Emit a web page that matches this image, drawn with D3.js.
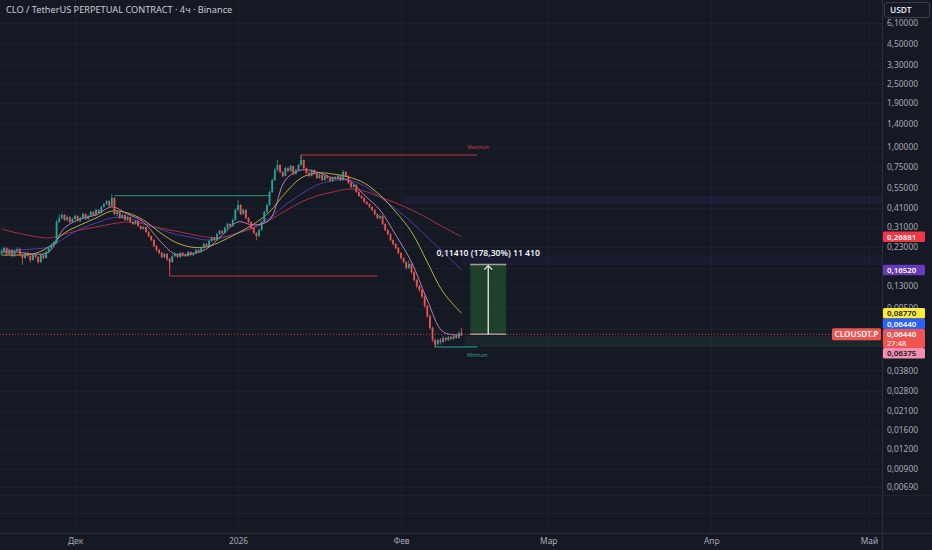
<!DOCTYPE html>
<html><head><meta charset="utf-8">
<script src="https://cdn.jsdelivr.net/npm/d3@7"></script>
<style>
html,body{margin:0;padding:0;background:#151924;overflow:hidden;}
svg{display:block;}
text{font-family:"Noto Sans","Open Sans",sans-serif;}
</style></head><body>
<svg id="c" width="932" height="550"></svg>
<script>
// ---------------- DATA ----------------
const title = "CLO / TetherUS PERPETUAL CONTRACT · 4ч · Binance";
const firstOpen = 0.210;
const candleStart = new Date(2025, 10, 17, 0, 0); // first candle (12h step)
const stepHours = 12;
const closes = [
 0.2146,0.2275,0.2084,0.221,0.2024,0.218,0.2242,0.2054,0.1966,0.2115,
 0.2024,0.191,0.2084,0.1995,0.1854,0.2054,0.1966,0.2146,0.2275,0.2377,
 0.245,0.333,0.353,0.369,0.343,0.358,0.333,0.348,0.364,0.338,
 0.353,0.374,0.348,0.364,0.386,0.369,0.397,0.380,0.415,0.433,
 0.452,0.421,0.473,0.374,0.386,0.353,0.369,0.343,0.358,0.333,
 0.3235,0.338,0.314,0.3006,0.3095,0.288,0.271,0.256,0.2343,0.221,
 0.2115,0.1995,0.2084,0.1937,0.1854,0.2024,0.2084,0.1995,0.2115,0.2054,
 0.2024,0.2146,0.2054,0.2115,0.221,0.2146,0.2275,0.2415,0.2343,0.2524,
 0.2635,0.256,0.279,0.292,0.2835,0.305,0.3235,0.314,0.343,0.397,
 0.427,0.374,0.397,0.353,0.333,0.305,0.2835,0.271,0.296,0.333,
 0.386,0.427,0.516,0.615,0.712,0.766,0.692,0.653,0.733,0.702,
 0.755,0.672,0.712,0.766,0.824,0.733,0.682,0.653,0.712,0.672,
 0.634,0.662,0.615,0.653,0.634,0.607,0.643,0.625,0.653,0.615,
 0.692,0.653,0.589,0.556,0.572,0.516,0.487,0.473,0.446,0.433,
 0.415,0.397,0.374,0.353,0.364,0.3235,0.296,0.279,0.256,0.2415,
 0.2275,0.2115,0.1966,0.1854,0.1698,0.180,0.160,0.1425,0.1305,0.1231,
 0.1119,0.0973,0.084,0.0707,0.0592,0.0559,0.0592,0.0576,0.061,0.0592,
 0.0619,0.0602,0.0628,0.061,0.0658,0.0644
];
const highs = [
 0.224,0.233,0.231,0.226,0.224,0.222,0.230,0.227,0.209,0.215,
 0.216,0.205,0.212,0.211,0.203,0.209,0.208,0.219,0.232,0.243,
 0.252,0.345,0.372,0.378,0.374,0.366,0.362,0.356,0.371,0.367,
 0.359,0.382,0.379,0.369,0.393,0.390,0.404,0.402,0.422,0.441,
 0.462,0.458,0.500,0.478,0.395,0.390,0.376,0.372,0.364,0.361,
 0.338,0.344,0.341,0.318,0.315,0.312,0.292,0.274,0.259,0.238,
 0.225,0.216,0.213,0.211,0.197,0.207,0.213,0.211,0.215,0.214,
 0.209,0.218,0.217,0.215,0.226,0.224,0.232,0.246,0.245,0.257,
 0.269,0.267,0.284,0.298,0.296,0.311,0.330,0.327,0.350,0.405,
 0.460,0.433,0.405,0.401,0.358,0.337,0.309,0.287,0.301,0.340,
 0.394,0.436,0.527,0.628,0.735,0.824,0.775,0.700,0.745,0.742,
 0.768,0.762,0.725,0.780,0.887,0.830,0.740,0.690,0.722,0.720,
 0.680,0.672,0.668,0.660,0.661,0.640,0.650,0.652,0.662,0.658,
 0.712,0.700,0.660,0.596,0.580,0.578,0.522,0.494,0.478,0.452,
 0.440,0.420,0.402,0.378,0.370,0.368,0.327,0.300,0.283,0.259,
 0.245,0.231,0.214,0.199,0.188,0.190,0.183,0.162,0.145,0.133,
 0.125,0.114,0.099,0.086,0.072,0.0605,0.0605,0.0610,0.0625,0.0620,
 0.0630,0.0628,0.0640,0.0645,0.0672,0.0705
];
const lows = [
 0.205,0.211,0.203,0.205,0.198,0.200,0.214,0.202,0.178,0.194,
 0.199,0.185,0.189,0.196,0.181,0.183,0.193,0.195,0.211,0.224,
 0.233,0.243,0.328,0.346,0.338,0.336,0.327,0.329,0.344,0.333,
 0.334,0.349,0.343,0.345,0.360,0.364,0.366,0.375,0.377,0.410,
 0.428,0.415,0.418,0.368,0.362,0.348,0.349,0.338,0.339,0.329,
 0.318,0.320,0.309,0.296,0.297,0.283,0.266,0.251,0.230,0.216,
 0.207,0.195,0.196,0.188,0.170,0.183,0.199,0.196,0.197,0.201,
 0.199,0.200,0.202,0.203,0.209,0.211,0.212,0.225,0.231,0.232,
 0.249,0.252,0.253,0.275,0.279,0.280,0.301,0.309,0.310,0.339,
 0.392,0.368,0.370,0.347,0.327,0.300,0.278,0.255,0.268,0.293,
 0.330,0.380,0.422,0.510,0.605,0.700,0.680,0.640,0.648,0.690,
 0.695,0.660,0.665,0.705,0.758,0.720,0.672,0.640,0.648,0.662,
 0.625,0.628,0.606,0.610,0.627,0.598,0.602,0.618,0.620,0.608,
 0.610,0.645,0.580,0.548,0.548,0.508,0.480,0.465,0.439,0.426,
 0.408,0.390,0.367,0.347,0.345,0.318,0.291,0.274,0.251,0.237,
 0.223,0.207,0.192,0.181,0.166,0.168,0.156,0.139,0.127,0.120,
 0.109,0.095,0.082,0.069,0.0575,0.0535,0.0548,0.0555,0.0565,0.0578,
 0.0585,0.0590,0.0595,0.0600,0.0605,0.0630
];
// moving averages sampled at candle indices
const maIdx = [0,6,12,18,24,30,36,42,48,54,60,66,72,78,84,90,96,102,108,114,120,126,132,138,144,150,156,162,168,175];
const maFast = [0.2146,0.2146,0.2084,0.2146,0.305,0.348,0.369,0.415,0.374,0.333,0.256,0.2084,0.2084,0.2242,0.275,0.333,0.3187,0.343,0.615,0.712,0.692,0.634,0.615,0.494,0.397,0.275,0.1854,0.1063,0.0668,0.06375];
const maYellow = [0.2054,0.2054,0.2084,0.231,0.2835,0.3187,0.353,0.391,0.380,0.343,0.288,0.2486,0.231,0.231,0.2524,0.2835,0.3235,0.386,0.509,0.634,0.682,0.672,0.643,0.589,0.494,0.386,0.288,0.1854,0.1196,0.0877];
const maIndigo = [0.221,0.221,0.2242,0.231,0.2635,0.3006,0.328,0.353,0.353,0.328,0.3006,0.279,0.267,0.256,0.2635,0.2835,0.3095,0.353,0.427,0.501,0.572,0.607,0.615,0.564,0.480,0.403,0.333,0.267,0.2146,0.1652];
const maRed = [0.3006,0.2835,0.271,0.2635,0.279,0.296,0.3095,0.3235,0.333,0.3235,0.305,0.292,0.279,0.267,0.267,0.2835,0.305,0.343,0.391,0.446,0.487,0.516,0.539,0.523,0.480,0.440,0.397,0.353,0.3095,0.2688];
const priceTicks = [6.1,4.5,3.3,2.5,1.9,1.4,1.0,0.75,0.55,0.41,0.31,0.23,0.17,0.13,0.095,0.07,0.052,0.038,0.028,0.021,0.016,0.012,0.009,0.0069];
const monthDates = [new Date(2025,11,1),new Date(2026,0,1),new Date(2026,1,1),new Date(2026,2,1),new Date(2026,3,1),new Date(2026,4,1)];
const monthLabels = ["Дек","2026","Фев","Мар","Апр","Май"];
// price-axis tags: value, text, background, text colour
const tagValues = [0.26881,0.16520,0.08770,0.06440,0.06375];
const tagTexts = ["0,26881","0,16520","0,08770","0,06440","0,06375"];
const tagBg = ["#f23645","#673ab7","#ffeb3b","#2962ff","#f48fb1"];
const tagFg = ["#ffffff","#ffffff","#131722","#ffffff","#131722"];
const lastPrice = 0.06440, countdown = "27:48", symbol = "CLOUSDT.P";
// drawings
const maxPrice = 0.887, minPrice = 0.0535;
const measureFrom = 0.0644, measureTo = 0.1785;
const measureText = "0,11410 (178,30%) 11 410";
const zoneUpper = [0.487, 0.433];
const zoneLower = [0.2054, 0.1770];
const pivotHigh = 0.490, pivotLow = 0.1511;

// ---------------- CHART ----------------
const W = 932, H = 550, plotR = 882, plotB = 533;
const svg = d3.select("#c");
svg.append("rect").attr("width",W).attr("height",H).attr("fill","#151924");

const x = d3.scaleTime().domain([new Date(2025,10,16,17,40), new Date(2026,4,3,11,30)]).range([0, plotR]);
const y = d3.scaleLog().domain([0.0069, 4.5]).range([487, 44]);
const tAt = i => new Date(candleStart.getTime() + i*stepHours*3600e3);
const xi = i => x(tAt(i));
const loc = d3.formatLocale({decimal:",",thousands:" ",grouping:[3],currency:["",""]});
const f5 = loc.format(".5f");

// grid
const grid = svg.append("g");
grid.selectAll("line.h").data(priceTicks).join("line")
  .attr("x1",0).attr("x2",plotR).attr("y1",d=>Math.round(y(d))+0.5).attr("y2",d=>Math.round(y(d))+0.5)
  .attr("stroke","#1c202d").attr("stroke-width",1);
grid.selectAll("line.v").data(monthDates).join("line")
  .attr("x1",d=>Math.round(x(d))+0.5).attr("x2",d=>Math.round(x(d))+0.5).attr("y1",0).attr("y2",plotB)
  .attr("stroke","#1c202d").attr("stroke-width",1);
// pane lines
[495,513].forEach(v=>svg.append("line").attr("x1",0).attr("x2",W).attr("y1",v+0.5).attr("y2",v+0.5).attr("stroke","#1f2330"));
svg.append("line").attr("x1",0).attr("x2",W).attr("y1",plotB+0.5).attr("y2",plotB+0.5).attr("stroke","#2a2e39");
svg.append("line").attr("x1",plotR+0.5).attr("x2",plotR+0.5).attr("y1",0).attr("y2",H).attr("stroke","#2a2e39");

// zones
const z = svg.append("g");
const zuX = x(tAt(153)), zlX = x(tAt(175));
z.append("rect").attr("x",zuX).attr("width",plotR-zuX)
  .attr("y",y(zoneUpper[0])).attr("height",y(zoneUpper[1])-y(zoneUpper[0])).attr("fill","rgba(80,60,200,0.14)");
z.append("rect").attr("x",zlX).attr("width",plotR-zlX)
  .attr("y",y(zoneLower[0])).attr("height",y(zoneLower[1])-y(zoneLower[0])).attr("fill","rgba(80,60,200,0.09)");
z.append("rect").attr("x",xi(175)+3).attr("width",plotR-xi(175)-3)
  .attr("y",y(lastPrice)+2).attr("height",y(minPrice)-y(lastPrice)-2).attr("fill","rgba(70,140,110,0.12)");

// pivot lines
const lc = svg.append("g").attr("fill","none").attr("stroke-width",1.2);
lc.append("path").attr("stroke","#2b7d6e")
  .attr("d",`M${xi(43)},${y(pivotHigh)}H${xi(102)}`);
lc.append("path").attr("stroke","#c2303f")
  .attr("d",`M${xi(64)},${y(0.197)}V${y(pivotLow)}H${xi(143)}`);
lc.append("path").attr("stroke","#c2303f")
  .attr("d",`M${xi(114)},${y(0.83)}V${y(maxPrice)}H${xi(181)}`);
lc.append("path").attr("stroke","#26a69a")
  .attr("d",`M${xi(165)},${y(0.0592)}V${y(minPrice)}H${xi(181)}`);
svg.append("text").attr("x",xi(181)+1).attr("y",y(maxPrice)-6).attr("text-anchor","middle")
  .attr("font-size",4.5).attr("fill","#d23a4a").text("Maximum");
svg.append("text").attr("x",xi(181)).attr("y",y(minPrice)+10).attr("text-anchor","middle")
  .attr("font-size",4.5).attr("fill","#26a69a").text("Minimum");

// moving averages
const maLine = vals => d3.line().x((d,k)=>xi(maIdx[k])).y(d=>y(d)).curve(d3.curveCatmullRom.alpha(0.5))(vals);
const mas = [[maRed,"#b8324a"],[maIndigo,"#5a3fb0"],[maYellow,"#cbbd45"],[maFast,"#c98ac8"]];
svg.append("g").attr("fill","none").attr("stroke-width",1)
  .selectAll("path").data(mas).join("path").attr("d",d=>maLine(d[0])).attr("stroke",d=>d[1]).attr("opacity",0.9);

// candles
const cd = closes.map((c,i)=>({i,o:i?closes[i-1]:firstOpen,c,h:highs[i],l:lows[i]}));
const cg = svg.append("g");
cg.selectAll("line").data(cd).join("line")
  .attr("x1",d=>xi(d.i)).attr("x2",d=>xi(d.i)).attr("y1",d=>y(d.h)).attr("y2",d=>y(d.l))
  .attr("stroke",d=>d.c>=d.o?"#26a69a":"#ef5350").attr("stroke-width",0.8);
cg.selectAll("rect").data(cd).join("rect")
  .attr("x",d=>xi(d.i)-0.9).attr("width",1.8)
  .attr("y",d=>y(Math.max(d.o,d.c))).attr("height",d=>Math.max(0.8,Math.abs(y(d.o)-y(d.c))))
  .attr("fill",d=>d.c>=d.o?"#26a69a":"#ef5350");

// measure tool
const mx0 = xi(181)-7, mx1 = xi(181)+29, mxc = (mx0+mx1)/2;
const mg = svg.append("g");
mg.append("rect").attr("x",mx0).attr("width",mx1-mx0).attr("y",y(measureTo)).attr("height",y(measureFrom)-y(measureTo))
  .attr("fill","rgba(46,125,50,0.38)");
mg.append("line").attr("x1",mx0).attr("x2",mx1).attr("y1",y(measureTo)).attr("y2",y(measureTo)).attr("stroke","#9aa39c").attr("stroke-width",1.5);
mg.append("line").attr("x1",mx0).attr("x2",mx1).attr("y1",y(measureFrom)).attr("y2",y(measureFrom)).attr("stroke","#9aa39c").attr("stroke-width",1.5);
mg.append("line").attr("x1",mxc).attr("x2",mxc).attr("y1",y(measureFrom)).attr("y2",y(measureTo)+1).attr("stroke","#e8ebe8").attr("stroke-width",1.3);
mg.append("path").attr("d",`M${mxc-4},${y(measureTo)+5}L${mxc},${y(measureTo)+1}L${mxc+4},${y(measureTo)+5}`)
  .attr("fill","none").attr("stroke","#e8ebe8").attr("stroke-width",1.3);
mg.append("text").attr("x",mxc).attr("y",y(measureTo)-9).attr("text-anchor","middle")
  .attr("font-size",8.6).attr("font-weight",600).attr("fill","#f0f3fa").text(measureText);

// last price line
svg.append("line").attr("x1",0).attr("x2",plotR).attr("y1",y(lastPrice)).attr("y2",y(lastPrice))
  .attr("stroke","#ef5350").attr("stroke-dasharray","1,2").attr("opacity",0.8);

// axis tags layout
const tagH = 10.5, tagX = plotR+1, tagW = 42, tagFs = 7.9;
const mainTop = y(lastPrice)-5.2, mainH = 19;
let pos = tagValues.map(v=>y(v));
pos[3] = Math.min(pos[3], mainTop - tagH/2);
pos[2] = Math.min(pos[2], pos[3]-tagH);
pos[4] = Math.max(pos[4], mainTop+mainH+tagH/2);
const tagBoxes = pos.map(p=>[p-tagH/2,p+tagH/2]).concat([[mainTop,mainTop+mainH]]);
const hiddenTick = v => tagBoxes.some(b=>y(v)-3>=b[0]-1 && y(v)+3<=b[1]+1);

// price axis
const ax = svg.append("g").attr("transform",`translate(${plotR},0)`)
  .call(d3.axisRight(y).tickValues(priceTicks.filter(v=>!hiddenTick(v))).tickFormat(f5).tickSize(0).tickPadding(5));
ax.select(".domain").remove();
ax.selectAll("text").attr("fill","#a8abb4").attr("font-size",8.4).attr("font-family","Noto Sans, sans-serif");

// time axis
const tx = svg.append("g").attr("transform",`translate(0,${plotB})`)
  .call(d3.axisBottom(x).tickValues(monthDates).tickFormat((d,i)=>monthLabels[i]).tickSize(0).tickPadding(5));
tx.select(".domain").remove();
tx.selectAll("text").attr("fill","#a8abb4").attr("font-size",8.4).attr("font-family","Noto Sans, sans-serif");

// axis tags
const tg = svg.append("g");
tagValues.forEach((v,k)=>{
  tg.append("rect").attr("x",tagX).attr("y",pos[k]-tagH/2).attr("width",tagW).attr("height",tagH).attr("rx",1.5).attr("fill",tagBg[k]);
  tg.append("text").attr("x",tagX+4).attr("y",pos[k]+3).attr("font-size",tagFs).attr("font-weight",600).attr("fill",tagFg[k]).text(tagTexts[k]);
});
tg.append("rect").attr("x",tagX).attr("y",mainTop).attr("width",tagW).attr("height",mainH).attr("rx",1.5).attr("fill","#f05350");
tg.append("text").attr("x",tagX+4).attr("y",mainTop+8).attr("font-size",tagFs).attr("font-weight",600).attr("fill","#fff").text(f5(lastPrice));
tg.append("text").attr("x",tagX+4).attr("y",mainTop+16.6).attr("font-size",7.6).attr("fill","#fff").text(countdown);
tg.append("rect").attr("x",plotR-50).attr("y",y(lastPrice)-6).attr("width",49).attr("height",12).attr("rx",1.5).attr("fill","#f05350");
tg.append("text").attr("x",plotR-25.5).attr("y",y(lastPrice)+3).attr("text-anchor","middle").attr("font-size",8.2).attr("font-weight",600).attr("fill","#fff").text(symbol);

// USDT box
svg.append("rect").attr("x",plotR+2.5).attr("y",2.5).attr("width",45).attr("height",15).attr("rx",2.5)
  .attr("fill","#151924").attr("stroke","#3a3e4a");
svg.append("text").attr("x",plotR+8).attr("y",13).attr("font-size",8.4).attr("font-weight",600).attr("fill","#e0e3eb").text("USDT");

// title
svg.append("text").attr("x",6).attr("y",13).attr("font-size",9.2).attr("fill","#c9ccd4").text(title);
</script>
</body></html>
